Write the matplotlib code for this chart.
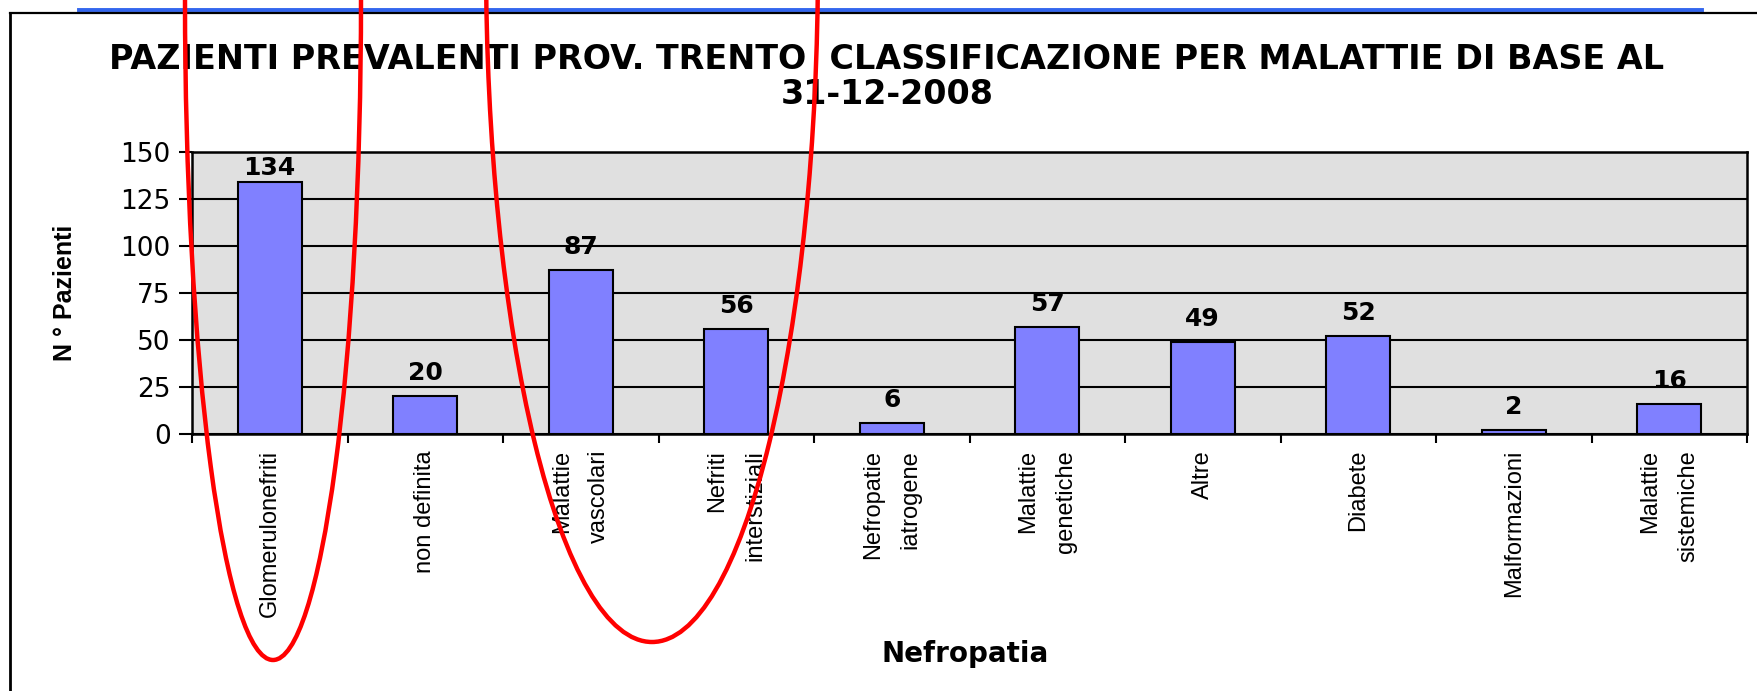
import matplotlib
matplotlib.use("Agg")
import matplotlib.pyplot as plt
from matplotlib import font_manager
from matplotlib.patches import Ellipse
from matplotlib.lines import Line2D

# ---- data ----
categories = ["Glomerulonefriti", "non definita", "Malattie\nvascolari",
              "Nefriti\ninterstiziali", "Nefropatie\niatrogene",
              "Malattie\ngenetiche", "Altre", "Diabete", "Malformazioni",
              "Malattie\nsistemiche"]
values = [134, 20, 87, 56, 6, 57, 49, 52, 2, 16]
yticks = [0, 25, 50, 75, 100, 125, 150]
title = "PAZIENTI PREVALENTI PROV. TRENTO  CLASSIFICAZIONE PER MALATTIE DI BASE AL\n31-12-2008"
ylabel = "N ° Pazienti"
xlabel = "Nefropatia"

W, H = 1758, 691


def has_font(name):
    try:
        font_manager.findfont(font_manager.FontProperties(family=name),
                              fallback_to_default=False)
        return True
    except Exception:
        return False


NARROW = "Liberation Sans Narrow" if has_font("Liberation Sans Narrow") else None
if NARROW:
    rot_family, rot_size, ylab_size = NARROW, 21, 22
else:
    rot_family, rot_size, ylab_size = "Liberation Sans", 17, 18

WIDE = "DejaVu Sans"


def fx(px):
    return px / W


def fy(py):
    return 1 - py / H


fig = plt.figure(figsize=(W / 100, H / 100), dpi=100)
fig.patch.set_facecolor("white")

# axes area: left 192, right 1747, top 152, bottom 434 (pixels)
ax = fig.add_axes([fx(192), fy(434), (1747 - 192) / W, (434 - 152) / H])
xpos = list(range(len(categories)))
ax.bar(xpos, values, width=0.41, color="#8080FF", edgecolor="black",
       linewidth=1.5, zorder=3)
ax.set_xlim(-0.5, len(categories) - 0.5)
ax.set_ylim(yticks[0], yticks[-1])
ax.set_facecolor("#E0E0E0")
ax.set_axisbelow(True)
ax.yaxis.grid(True, color="black", linewidth=1.5)
for sp in ax.spines.values():
    sp.set_linewidth(1.8)
    sp.set_color("black")

# y ticks
ax.set_yticks(yticks)
ax.set_yticklabels([str(t) for t in yticks], fontsize=19, family=WIDE)
ax.tick_params(axis="y", direction="out", length=9.4, width=1.5, pad=6)

# x ticks: labels at centres, marks at boundaries
ax.set_xticks(xpos)
ax.set_xticklabels(categories, rotation=90, ha="center", va="top",
                   multialignment="right", fontsize=rot_size,
                   family=rot_family, linespacing=1.9)
ax.tick_params(axis="x", which="major", length=0, pad=11.5)
ax.set_xticks([p - 0.5 for p in xpos] + [xpos[-1] + 0.5], minor=True)
ax.tick_params(axis="x", which="minor", direction="out", length=6.5, width=1.5)

# data labels
px_per_unit = (434 - 152) / (yticks[-1] - yticks[0])
for xi, v in zip(xpos, values):
    off_px = min(16, (yticks[-1] - v) * px_per_unit - 23)
    ax.annotate(str(v), (xi, v), xytext=(0, off_px * 0.72),
                textcoords="offset points", ha="center", va="baseline",
                fontsize=18, fontweight="bold", family=WIDE, zorder=5)

# axis labels
ax.set_ylabel(ylabel, fontsize=ylab_size, fontweight="bold", family=rot_family)
ax.yaxis.label.set_va("center")
ax.yaxis.set_label_coords((65 - 192) / (1747 - 192), 0.5)
ax.set_xlabel(xlabel, fontsize=20, fontweight="bold", family=WIDE)
ax.xaxis.label.set_va("center")
ax.xaxis.set_label_coords((965 - 192) / (1747 - 192), (434 - 654) / (434 - 152))

# title
fig.text(fx(887), fy(77), title, ha="center", va="center",
         fontsize=24, fontweight="bold", family=WIDE, linespacing=1.05)

# slide decorations: blue rule and black frame
fig.add_artist(Line2D([fx(79), fx(1702)], [fy(10), fy(10)], color="#3366EE",
                      linewidth=2.8, transform=fig.transFigure))
fig.add_artist(Line2D([fx(10), fx(1758)], [fy(12.5), fy(12.5)], color="black",
                      linewidth=1.6, transform=fig.transFigure))
fig.add_artist(Line2D([fx(10), fx(10)], [fy(12.5), fy(691)], color="black",
                      linewidth=2.0, transform=fig.transFigure))

# red hand-drawn ellipses
for cx, cy, a, b in [(273, 0, 88, 660), (652, -40, 166, 682)]:
    e = Ellipse((fx(cx), fy(cy)), width=2 * a / W, height=2 * b / H,
                transform=fig.transFigure, fill=False, edgecolor="red",
                linewidth=3.2, zorder=10)
    fig.add_artist(e)

fig.savefig("out.png", dpi=100)
